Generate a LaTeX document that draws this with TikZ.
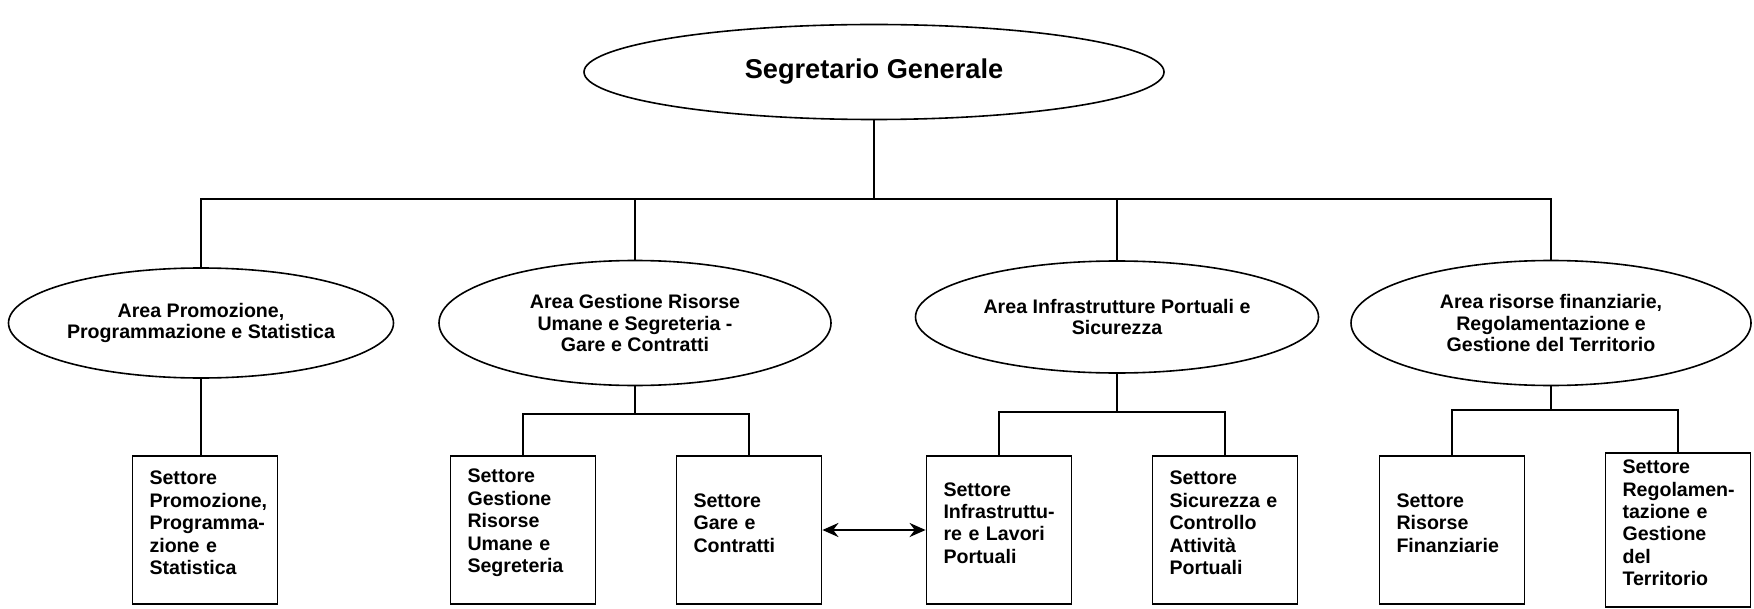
\documentclass[tikz,border=0pt]{standalone}
\usepackage{fontspec}
\setmainfont{Liberation Sans}
\usetikzlibrary{shapes.geometric,arrows.meta}
\hyphenpenalty=10000
\exhyphenpenalty=10000

\begin{document}
\begin{tikzpicture}[x=0.5pt,y=-0.5pt,
    area/.style={ellipse,draw,line width=0.8pt,inner sep=0pt,align=center,
      font=\fontsize{9.8}{10.8}\selectfont\bfseries},
    settore/.style={draw,line width=0.9pt,minimum width=72.5pt,minimum height=74pt,
      text width=55.5pt,inner xsep=8.5pt,align=left,
      font=\fontsize{9.8}{11.2}\selectfont\bfseries,
      execute at end node={\endgraf\vspace*{7pt}}},
    link/.style={line width=0.6pt}]
  \useasboundingbox (0,0) rectangle (1754,609);
  \node[area,minimum width=290pt,minimum height=47.5pt,
    font=\fontsize{13.6}{16}\selectfont\bfseries] (sg) at (874,72) {Segretario Generale};
  \node[area,minimum width=192.5pt,minimum height=55pt] (a1) at (201,323)
    {Area Promozione,\\Programmazione e Statistica};
  \node[area,minimum width=196pt,minimum height=62.5pt] (a2) at (635,323)
    {Area Gestione Risorse\\Umane e Segreteria -\\Gare e Contratti};
  \node[area,minimum width=201.5pt,minimum height=56pt] (a3) at (1117,317)
    {Area Infrastrutture Portuali e\\Sicurezza};
  \node[area,minimum width=200pt,minimum height=62.5pt] (a4) at (1551,323)
    {Area risorse finanziarie,\\Regolamentazione e\\Gestione del Territorio};
  \node[settore] (s1) at (205,530) {Settore\\Promozione,\\Programma-\\zione e\\Statistica};
  \node[settore] (s2a) at (523,530) {Settore\\Gestione\\Risorse\\Umane e\\Segreteria};
  \node[settore] (s2b) at (749,530) {Settore\\Gare e\\Contratti};
  \node[settore] (s3a) at (999,530) {Settore\\Infrastruttu-\\re e Lavori\\Portuali};
  \node[settore] (s3b) at (1225,530) {Settore\\Sicurezza e\\Controllo\\Attività\\Portuali};
  \node[settore] (s4a) at (1452,530) {Settore\\Risorse\\Finanziarie};
  \node[settore] (s4b) at (1678,530) {Settore\\Regolamen-\\tazione e\\Gestione\\del\\Territorio};
  \coordinate (bus) at (874,199);
  \coordinate (j2) at (635,414);
  \coordinate (j3) at (1117,412);
  \coordinate (j4) at (1551,410);
  \begin{scope}[link]
    \draw (sg) -- (bus);
    \draw (a1) |- (bus);
    \draw (a2) |- (bus);
    \draw (a3) |- (bus);
    \draw (a4) |- (bus);
    \draw (a1) -- (a1 |- s1.north);
    \draw (a2) -- (j2);
    \draw (s2a) |- (j2);
    \draw (s2b) |- (j2);
    \draw (a3) -- (j3);
    \draw (s3a) |- (j3);
    \draw (s3b) |- (j3);
    \draw (a4) -- (j4);
    \draw (s4a) |- (j4);
    \draw (s4b) |- (j4);
  \end{scope}
  \draw[{Stealth[length=8pt,width=7pt]}-{Stealth[length=8pt,width=7pt]},line width=1.2pt]
    (s2b) -- (s3a);
\end{tikzpicture}
\end{document}
